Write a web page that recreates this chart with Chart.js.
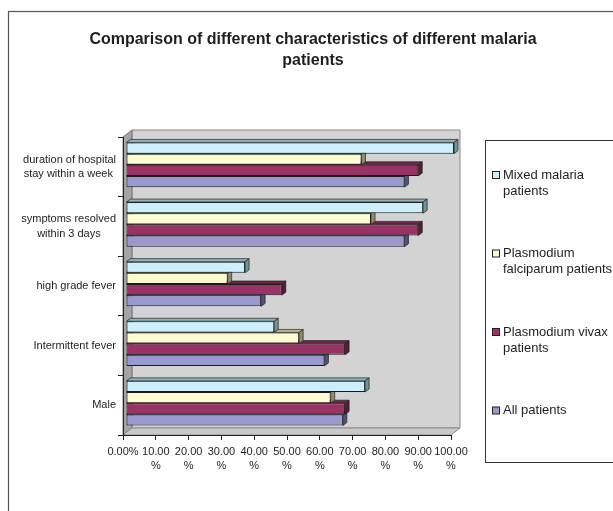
<!DOCTYPE html>
<html>
<head>
<meta charset="utf-8">
<script src="https://cdn.jsdelivr.net/npm/chart.js@4.4.0/dist/chart.umd.min.js"></script>
<style>
  html, body { margin: 0; padding: 0; background: #ffffff; }
  #wrap { width: 613px; height: 511px; position: relative; }
</style>
</head>
<body>
<div id="wrap"><canvas id="chart" width="613" height="511"></canvas></div>
<script>
// ---- chart data ----
const chartTitle = ['Comparison of different characteristics of different malaria', 'patients'];

const categories = [
  ['duration of hospital', 'stay within a week'],
  ['symptoms resolved', 'within 3 days'],
  'high grade fever',
  'Intermittent fever',
  'Male'
];

const seriesNames = [
  ['Mixed malaria', 'patients'],
  ['Plasmodium', 'falciparum patients'],
  ['Plasmodium vivax', 'patients'],
  ['All patients']
];

const mixedMalaria = [100.0, 90.6, 36.3, 45.2, 72.9];
const falciparum   = [71.8, 74.7, 31.0, 52.8, 62.4];
const vivax        = [89.1, 89.1, 47.5, 66.8, 66.8];
const allPatients  = [84.9, 84.9, 41.2, 60.5, 66.1];

const xTickLabels = ['0.00%', ['10.00', '%'], ['20.00', '%'], ['30.00', '%'], ['40.00', '%'],
  ['50.00', '%'], ['60.00', '%'], ['70.00', '%'], ['80.00', '%'], ['90.00', '%'], ['100.00', '%']];

// ---- styling ----
const FONT = '"Liberation Sans", Arial, Helvetica, sans-serif';
const TEXT = '#1e1e1e';
const WALL_DX = 9, WALL_DY = -7;      // depth of the walls
const BAR_DX = 4, BAR_DY = -3;        // depth of each bar
const BAR_SHIFT_X = 3, BAR_SHIFT_Y = -2; // bars sit inside the box, behind the front plane

// Centre the lines of a multi-line category label on one another
// (the block itself stays right-aligned against the axis).
const measureCtx = document.createElement('canvas').getContext('2d');
function centredLines(label, font) {
  if (!Array.isArray(label)) return label;
  measureCtx.font = font;
  const widths = label.map(s => measureCtx.measureText(s).width);
  const maxW = Math.max(...widths);
  const sp = measureCtx.measureText(' ').width;
  return label.map((s, i) => s + ' '.repeat(Math.round((maxW - widths[i]) / 2 / sp)));
}

function poly(ctx, pts, fill, stroke, lw) {
  ctx.beginPath();
  ctx.moveTo(pts[0][0], pts[0][1]);
  for (let i = 1; i < pts.length; i++) ctx.lineTo(pts[i][0], pts[i][1]);
  ctx.closePath();
  if (fill) { ctx.fillStyle = fill; ctx.fill(); }
  if (stroke) { ctx.strokeStyle = stroke; ctx.lineWidth = lw || 1; ctx.stroke(); }
}

const box3d = {
  id: 'box3d',
  beforeDraw(chart) {
    const { ctx, chartArea: a } = chart;
    ctx.save();
    // outer chart frame
    ctx.strokeStyle = '#555555';
    ctx.lineWidth = 1.2;
    ctx.strokeRect(8.5, 11.5, 720, 620);
    // back wall
    poly(ctx, [[a.left + WALL_DX, a.top + WALL_DY], [a.right + WALL_DX, a.top + WALL_DY],
               [a.right + WALL_DX, a.bottom + WALL_DY], [a.left + WALL_DX, a.bottom + WALL_DY]],
         '#D3D3D3', '#8a8a8a', 1);
    // left wall
    poly(ctx, [[a.left, a.top], [a.left + WALL_DX, a.top + WALL_DY],
               [a.left + WALL_DX, a.bottom + WALL_DY], [a.left, a.bottom]],
         '#A4A4A4', '#7a7a7a', 1);
    // floor
    poly(ctx, [[a.left, a.bottom], [a.left + WALL_DX, a.bottom + WALL_DY],
               [a.right + WALL_DX, a.bottom + WALL_DY], [a.right, a.bottom]],
         '#C9C9C9', '#8a8a8a', 1);
    ctx.restore();
  },
  beforeDatasetsDraw(chart) {
    chart.ctx.save();
    chart.ctx.translate(BAR_SHIFT_X, BAR_SHIFT_Y);
  },
  afterDatasetDraw(chart, args) {
    const ctx = chart.ctx;
    const ds = chart.data.datasets[args.index];
    args.meta.data.forEach(el => {
      const p = el.getProps(['x', 'y', 'base', 'height'], true);
      const top = p.y - p.height / 2, bottom = p.y + p.height / 2;
      // top face
      poly(ctx, [[p.base, top], [p.base + BAR_DX, top + BAR_DY], [p.x + BAR_DX, top + BAR_DY], [p.x, top]],
           ds.topColor, '#222222', 0.7);
      // end face
      poly(ctx, [[p.x, top], [p.x + BAR_DX, top + BAR_DY], [p.x + BAR_DX, bottom + BAR_DY], [p.x, bottom]],
           ds.sideColor, '#222222', 0.7);
    });
  },
  afterDatasetsDraw(chart) {
    chart.ctx.restore();
  },
  afterDraw(chart) {
    const ctx = chart.ctx;
    ctx.save();
    // title
    ctx.fillStyle = TEXT;
    ctx.font = 'bold 16px ' + FONT;
    ctx.textAlign = 'center';
    ctx.textBaseline = 'middle';
    chartTitle.forEach((line, i) => ctx.fillText(line, 313, 40 + i * 21));

    // legend box
    ctx.strokeStyle = '#333333';
    ctx.lineWidth = 1;
    ctx.strokeRect(485.5, 140.5, 300, 322);
    ctx.font = '13px ' + FONT;
    ctx.textAlign = 'left';
    chart.data.datasets.forEach((ds, i) => {
      const y0 = 175 + i * 78.5;
      ctx.fillStyle = ds.backgroundColor;
      ctx.fillRect(492.5, y0 - 3.5, 7, 7);
      ctx.strokeStyle = '#222222';
      ctx.strokeRect(492.5, y0 - 3.5, 7, 7);
      ctx.fillStyle = TEXT;
      ds.label.forEach((line, k) => ctx.fillText(line, 503, y0 + k * 16));
    });
    ctx.restore();
  }
};

const catFont = '11px ' + FONT;

new Chart(document.getElementById('chart'), {
  type: 'bar',
  data: {
    labels: categories.map(c => centredLines(c, catFont)),
    datasets: [
      { label: seriesNames[0], data: mixedMalaria, backgroundColor: '#CDEEFC', topColor: '#8FB3B5', sideColor: '#6C9597' },
      { label: seriesNames[1], data: falciparum,   backgroundColor: '#FDFBCF', topColor: '#B9B791', sideColor: '#8E8C6C' },
      { label: seriesNames[2], data: vivax,        backgroundColor: '#993366', topColor: '#6E2449', sideColor: '#551B38' },
      { label: seriesNames[3], data: allPatients,  backgroundColor: '#9999CE', topColor: '#6C6C99', sideColor: '#505080' }
    ]
  },
  options: {
    indexAxis: 'y',
    responsive: false,
    animation: false,
    devicePixelRatio: 1,
    layout: { padding: { left: 0, right: 162, top: 137, bottom: 36 } },
    datasets: {
      bar: {
        categoryPercentage: 0.75,
        barPercentage: 1.0,
        borderColor: '#1a1a1a',
        borderWidth: 1,
        borderSkipped: false,
        clip: false
      }
    },
    plugins: {
      legend: { display: false },
      title: { display: false },
      tooltip: { enabled: false }
    },
    scales: {
      x: {
        min: 0,
        max: 100,
        ticks: {
          stepSize: 10,
          autoSkip: false,
          maxRotation: 0,
          padding: 5,
          color: TEXT,
          font: { family: FONT, size: 11, lineHeight: 1.3 },
          callback: (v, i) => xTickLabels[i]
        },
        grid: { drawOnChartArea: false, tickLength: 5, color: '#222222' },
        border: { display: true, color: '#222222' },
        afterFit: s => { s.height = 40; }
      },
      y: {
        ticks: {
          padding: 2,
          color: TEXT,
          font: { family: FONT, size: 11, lineHeight: 1.3 }
        },
        grid: { drawOnChartArea: false, tickLength: 5, color: '#222222' },
        border: { display: true, color: '#222222' },
        afterFit: s => { s.width = 123; }
      }
    }
  },
  plugins: [box3d]
});
</script>
</body>
</html>
